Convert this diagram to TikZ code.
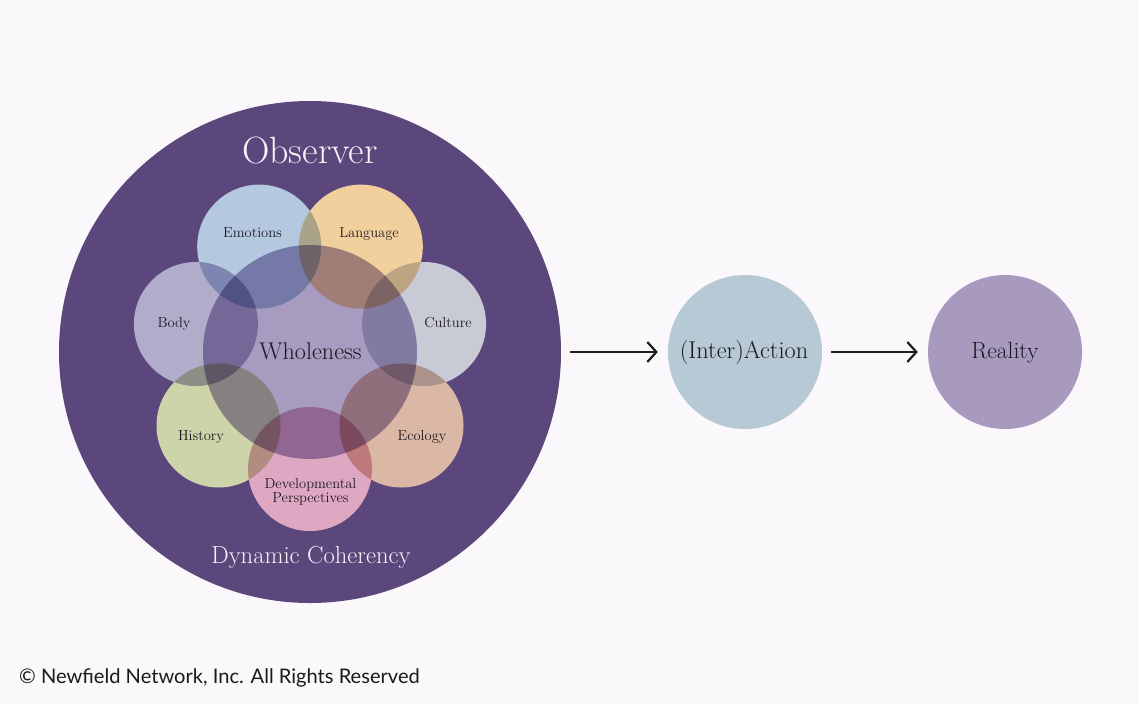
\documentclass[tikz,border=0pt]{standalone}
\usepackage{fontspec}
\newfontfamily\copyfont{Lato}
\usetikzlibrary{arrows.meta}
\definecolor{bg}{HTML}{FAF8FA}
\definecolor{obsc}{HTML}{5B477C}
\definecolor{cWhole}{HTML}{A79BC0}
\definecolor{cEmo}{HTML}{B4C8E0}
\definecolor{cLan}{HTML}{F2D09E}
\definecolor{cCul}{HTML}{C8CBD6}
\definecolor{cEco}{HTML}{DBB8A5}
\definecolor{cDev}{HTML}{DEA8C2}
\definecolor{cHis}{HTML}{CDD4AA}
\definecolor{cBod}{HTML}{B1ACCA}
\definecolor{cAct}{HTML}{B6C9D5}
\definecolor{cRea}{HTML}{A89ABE}
\definecolor{labtext}{HTML}{1C1820}
\definecolor{whitetext}{HTML}{F6F2F8}
\definecolor{arrowc}{HTML}{1E1E1E}
\definecolor{copyc}{HTML}{1A1A1A}
\begin{document}
\begin{tikzpicture}[x=1pt,y=-1pt,
  petal/.style={circle, inner sep=0pt, minimum size=124pt},
  bigc/.style={circle, inner sep=0pt, minimum size=154pt},
  lab/.style={inner sep=0pt, anchor=base, text=labtext, font=\fontsize{14.5}{14}\selectfont},
  biglab/.style={inner sep=0pt, anchor=base, text=labtext, font=\fontsize{24.3}{26}\selectfont},
  titlab/.style={inner sep=0pt, anchor=base, text=whitetext},
  arr/.style={-{Straight Barb[length=9pt,width=20pt]}, line width=2.2pt, draw=arrowc, shorten <=9pt, shorten >=10pt}]
\fill[bg] (0,0) rectangle (1139,704);
\useasboundingbox (0,0) rectangle (1139,704);
% observer disc
\node[circle, fill=obsc, minimum size=502pt, inner sep=0pt] (obs) at (310,352) {};
% overlapping circles, multiplied among themselves
\begin{scope}[transparency group]
\begin{scope}[blend mode=multiply]
\node[circle, inner sep=0pt, minimum size=214pt, fill=cWhole] (whole) at (310,352) {};
\node[petal, fill=cEmo] (emo) at (259.2,246.6) {};
\node[petal, fill=cLan] (lan) at (360.8,246.6) {};
\node[petal, fill=cCul] (cul) at (424.1,324) {};
\node[petal, fill=cEco] (eco) at (401.5,425.5) {};
\node[petal, fill=cDev] (dev) at (310,469) {};
\node[petal, fill=cHis] (his) at (218.5,425.5) {};
\node[petal, fill=cBod] (bod) at (195.9,324) {};
\end{scope}
\end{scope}
% labels
\node[titlab, font=\fontsize{38}{40}\selectfont] (obsl) at (310,163) {Observer};
\node[titlab, font=\fontsize{24.6}{26}\selectfont] (dynl) at (311,563) {Dynamic Coherency};
\node[inner sep=0pt, anchor=base, text=labtext, font=\fontsize{24.2}{26}\selectfont] (wholel) at (310.5,359) {Wholeness};
\node[lab] (emol) at (252.5,237) {Emotions};
\node[lab] (lanl) at (369,237) {Language};
\node[lab] (bodl) at (174,327) {Body};
\node[lab] (cull) at (448,327) {Culture};
\node[lab] (hisl) at (201,440) {History};
\node[lab] (ecol) at (422,440) {Ecology};
\node[inner sep=0pt, anchor=north, align=center, text=labtext, font=\fontsize{14.5}{14}\selectfont] (devl) at (310.5,478) {Developmental\\Perspectives};
% right side
\node[bigc, fill=cAct] (act) at (745,352) {};
\node[bigc, fill=cRea] (rea) at (1005,352) {};
\node[biglab] (actl) at (744,358) {(Inter)Action};
\node[biglab, font=\fontsize{23.5}{26}\selectfont] (real) at (1005,358) {Reality};
\draw[arr] (obs.east) -- (act.west);
\draw[arr] (act.east) -- (rea.west);
% copyright
\node[inner sep=0pt, anchor=base west, text=copyc, font=\copyfont\fontsize{20.1}{22}\selectfont] (copy) at (19,683) {© Newfield Network, Inc. All Rights Reserved};
\end{tikzpicture}
\end{document}
